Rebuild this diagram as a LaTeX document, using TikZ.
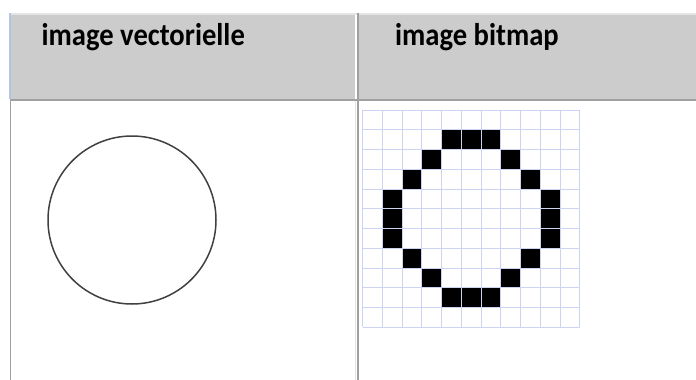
\documentclass[tikz,border=0pt]{standalone}
\usepackage{fontspec}
\setmainfont{Carlito}
\definecolor{hdrfill}{HTML}{CCCCCC}
\definecolor{rulegray}{HTML}{A0A0A0}
\definecolor{lightrule}{HTML}{E4E4E4}
\definecolor{edgeblue}{HTML}{B4C4E4}
\definecolor{gridblue}{HTML}{CCD4F2}
\newcommand{\hdrtxt}[1]{\scalebox{1}[1.1]{#1}}
\tikzset{
  hdrtext/.style={anchor=base west, inner sep=0pt, font=\bfseries\fontsize{28.6}{32}\selectfont, text=black},
  gridline/.style={draw=gridblue, line width=0.9pt},
}
\begin{document}
\begin{tikzpicture}[x=1pt,y=-1pt]
\useasboundingbox[fill=white] (0,0) rectangle (696,380);
% header cells
\fill[lightrule] (10,13) rectangle (696,15);
\fill[hdrfill] (10,15) rectangle (355,98.5);
\fill[hdrfill] (359,15) rectangle (696,98.5);
\fill[edgeblue] (9,13) rectangle (11,98.5);
% header bottom rule
\fill[rulegray] (10,98.5) rectangle (696,100.5);
% column rules
\fill[rulegray] (10,100.5) rectangle (11.2,380);
\fill[lightrule] (354.5,100.5) rectangle (355.5,380);
\fill[rulegray] (356.8,13) rectangle (358.6,380);
% header texts
\node[hdrtext] (h1) at (41.5,45) {\hdrtxt{image vectorielle}};
\node[hdrtext] (h2) at (395,45) {\hdrtxt{image bitmap}};
% vector circle
\draw[line width=1.5pt, draw=black!75] (132,220) circle (84);
% bitmap grid
\def\gx{362.5}\def\gy{110}\def\gc{19.75}
\foreach \c/\r in {4/1,5/1,6/1, 3/2,7/2, 2/3,8/3, 1/4,9/4, 1/5,9/5, 1/6,9/6, 2/7,8/7, 3/8,7/8, 4/9,5/9,6/9}{
  \fill[black] ({\gx+\c*\gc},{\gy+\r*\gc}) rectangle ({\gx+(\c+1)*\gc},{\gy+(\r+1)*\gc});
}
\foreach \i in {0,...,11}{
  \draw[gridline] ({\gx+\i*\gc},\gy) -- ({\gx+\i*\gc},{\gy+11*\gc});
  \draw[gridline] (\gx,{\gy+\i*\gc}) -- ({\gx+11*\gc},{\gy+\i*\gc});
}
\end{tikzpicture}
\end{document}
